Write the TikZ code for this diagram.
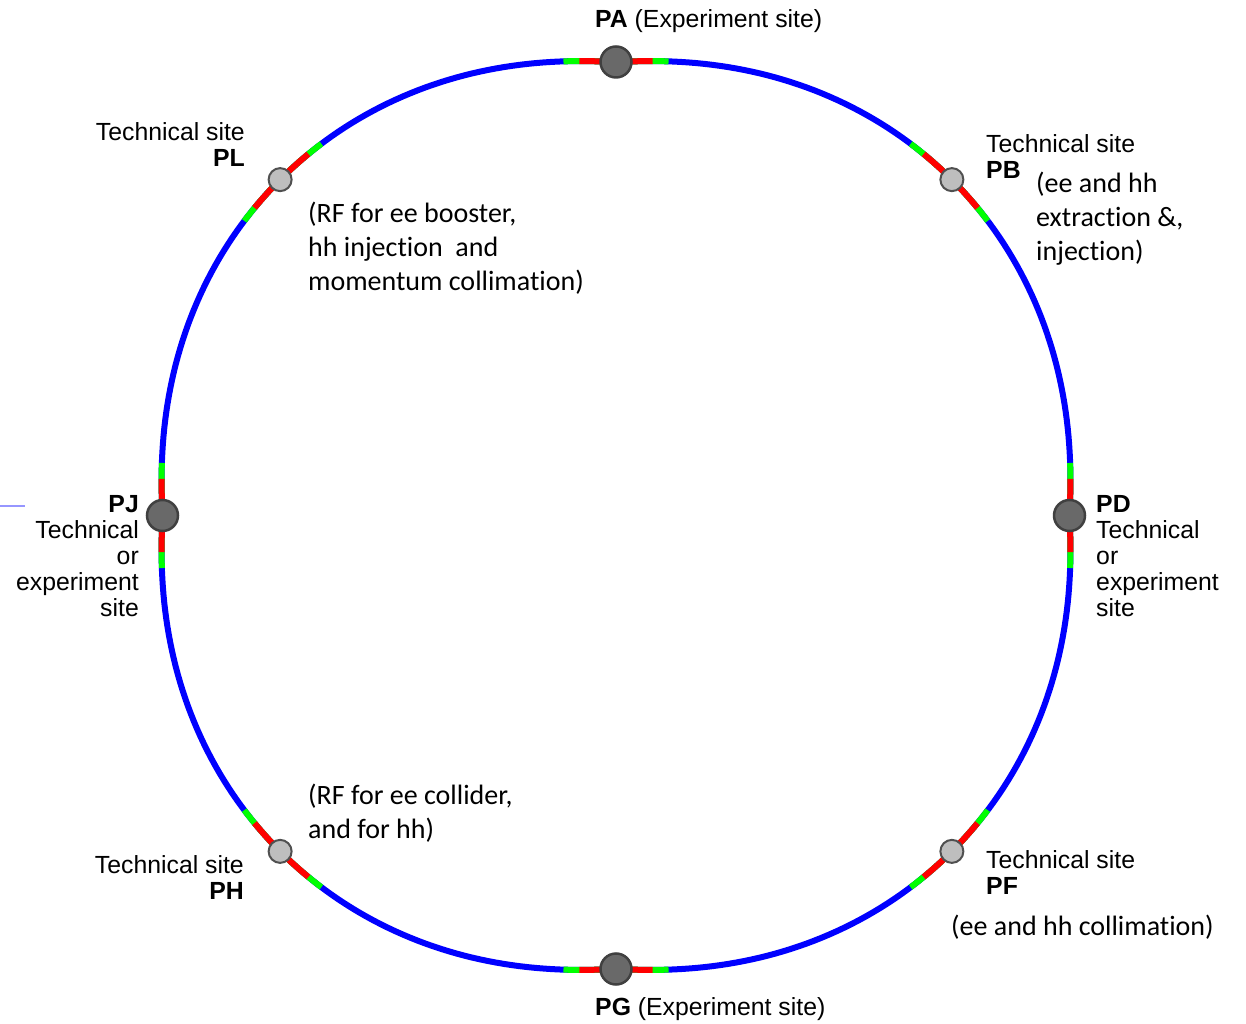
\documentclass[tikz,border=0pt]{standalone}
\usepackage{fontspec}
\setmainfont{Liberation Sans}
\newfontfamily\notefont[Ligatures=NoCommon]{Carlito}
\newcommand\stackL[1]{\begin{tabular}[t]{@{}l@{}}#1\end{tabular}}
\newcommand\stackR[1]{\begin{tabular}[t]{@{}r@{}}#1\end{tabular}}
\definecolor{ringblue}{RGB}{0,0,255}
\definecolor{ringred}{RGB}{255,0,0}
\definecolor{ringgreen}{RGB}{0,255,0}
\definecolor{ptdark}{RGB}{105,105,105}
\definecolor{ptdarkedge}{RGB}{64,64,64}
\definecolor{ptlight}{RGB}{190,190,190}
\definecolor{ptlightedge}{RGB}{80,80,80}
\definecolor{stub}{RGB}{150,150,255}
\tikzset{
  declare function={ringr(\t)=453.5+21.5*pow(abs(sin(2*\t))+0.00001,1.2);},
  ring/.style={draw=ringblue, line width=6pt},
  insgreen/.style={draw=ringgreen, line width=6pt},
  insred/.style={draw=ringred, line width=6pt},
  bigpt/.style={circle, fill=ptdark, draw=ptdarkedge, line width=2.5pt, minimum size=31pt, inner sep=0pt},
  smallpt/.style={circle, fill=ptlight, draw=ptlightedge, line width=2pt, minimum size=23pt, inner sep=0pt},
  lbl/.style={inner sep=0pt, font=\fontsize{24.8}{26}\selectfont},
  note/.style={inner sep=0pt, font=\notefont\fontsize{28}{34}\selectfont},
}
\begin{document}
\begin{tikzpicture}[x=1pt,y=1pt]
\useasboundingbox (0,0) rectangle (1246,1023);

% small stub line at the left edge
\coordinate (s1) at (0,517);
\coordinate (s2) at (25,517);
\draw[stub, line width=1.5pt] (s1) -- (s2);

\begin{scope}[shift={(616,507.5)}]
  % the ring
  \draw[ring] plot[domain=0:360, samples=721, variable=\t] ({\t}:{ringr(\t)}) -- cycle;
  % insertions: green ends, red middle
  \foreach \a in {0,45,...,315}{
    \draw[insgreen] plot[domain=\a-6.6:\a+6.6, samples=27, variable=\t] ({\t}:{ringr(\t)});
    \draw[insred] plot[domain=\a-4.6:\a+4.6, samples=19, variable=\t] ({\t}:{ringr(\t)});
  }
  % access points
  \node[bigpt] (PA) at (90:453.5pt) {};
  \node[bigpt] (PD) at (0:453.5pt) {};
  \node[bigpt] (PG) at (270:453.5pt) {};
  \node[bigpt] (PJ) at (180:453.5pt) {};
  \node[smallpt] (PB) at (45:475pt) {};
  \node[smallpt] (PF) at (315:475pt) {};
  \node[smallpt] (PH) at (225:475pt) {};
  \node[smallpt] (PL) at (135:475pt) {};
\end{scope}

% site labels
\node[lbl, anchor=base west] (lPA) at (595,995) {\textbf{PA} (Experiment site)};
\node[lbl, anchor=base west] (lPG) at (595,8) {\textbf{PG} (Experiment site)};
\node[lbl, anchor=base east] (lPL) at (245,882) {\stackR{Technical site\\\textbf{PL}}};
\node[lbl, anchor=base west] (lPB) at (986,870) {\stackL{Technical site\\\textbf{PB}}};
\node[lbl, anchor=base east] (lPH) at (244,150) {\stackR{Technical site\\\textbf{PH}}};
\node[lbl, anchor=base west] (lPF) at (986,155) {\stackL{Technical site\\\textbf{PF}}};
\node[lbl, anchor=base east] (lPJ) at (139,510) {\stackR{\textbf{PJ}\\Technical\\or\\experiment\\site}};
\node[lbl, anchor=base west] (lPD) at (1096,510) {\stackL{\textbf{PD}\\Technical\\or\\experiment\\site}};

% function notes
\node[note, anchor=base west] (nPL) at (308,800) {\stackL{(RF for ee booster,\\hh injection\ \ and\\momentum collimation)}};
\node[note, anchor=base west] (nPB) at (1036,830) {\stackL{(ee and hh\\extraction \&,\\injection)}};
\node[note, anchor=base west] (nPH) at (308,219) {\stackL{(RF for ee collider,\\and for hh)}};
\node[note, anchor=base west] (nPF) at (951,88) {(ee and hh collimation)};
\end{tikzpicture}
\end{document}
